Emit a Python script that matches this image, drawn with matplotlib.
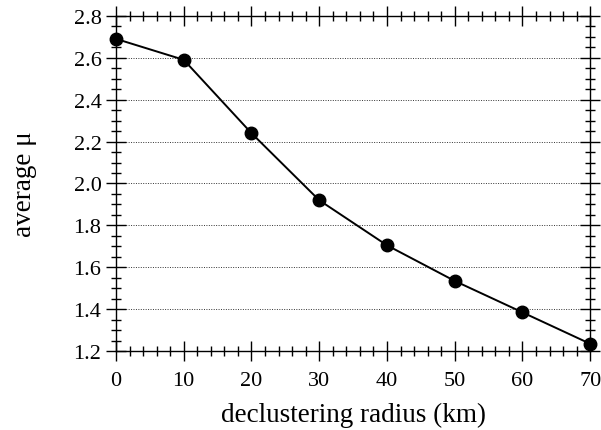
import numpy as np
import matplotlib.pyplot as plt
from matplotlib.ticker import MultipleLocator

# data
radius_km = np.array([0, 10, 20, 30, 40, 50, 60, 70])
avg_mu = np.array([2.69, 2.59, 2.24, 1.92, 1.705, 1.535, 1.385, 1.235])

plt.rcParams['font.family'] = ['Liberation Serif', 'DejaVu Serif']

fig = plt.figure(figsize=(6.01, 4.31), dpi=100)
ax = fig.add_axes([0.193, 0.183, 0.789, 0.778])

ax.plot(radius_km, avg_mu, color='black', linewidth=1.4, marker='o',
        markersize=9, clip_on=False, zorder=3)

ax.set_xlim(0, 70)
ax.set_ylim(1.2, 2.8)
ax.xaxis.set_major_locator(MultipleLocator(10))
ax.xaxis.set_minor_locator(MultipleLocator(2))
ax.yaxis.set_major_locator(MultipleLocator(0.2))
ax.yaxis.set_minor_locator(MultipleLocator(0.05))
ax.yaxis.set_major_formatter(plt.FormatStrFormatter('%.1f'))

ax.tick_params(which='both', direction='inout', top=True, right=True,
               labelsize=16, width=1.0, color='black')
ax.tick_params(which='major', length=15)
ax.tick_params(which='minor', length=7)
ax.tick_params(axis='x', pad=7)
ax.tick_params(axis='y', pad=3)

for s in ax.spines.values():
    s.set_linewidth(1.0)

ax.grid(True, axis='y', which='major', color='#333333', linestyle=(0, (1, 1.5)),
        linewidth=0.7)

ax.set_xlabel('declustering radius (km)', fontsize=19.5, labelpad=8)
ax.set_ylabel('average \u03bc', fontsize=19.5, labelpad=26)

plt.savefig('out.png', dpi=100)
